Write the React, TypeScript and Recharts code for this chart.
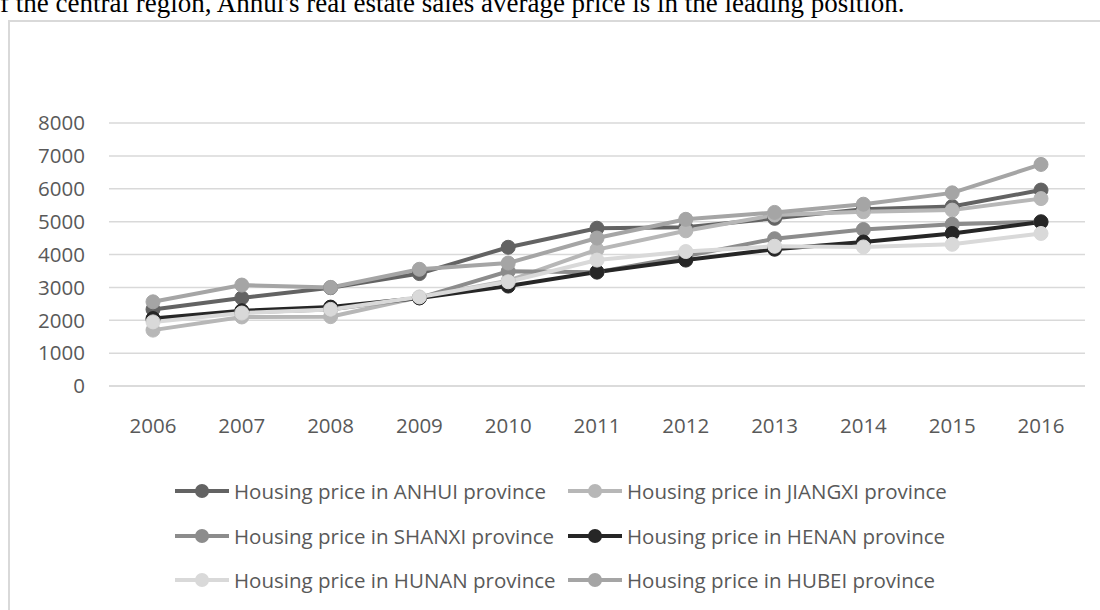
import React from 'react'
import { LineChart, Line, XAxis, YAxis, CartesianGrid, Legend } from 'recharts'

const years = ['2006', '2007', '2008', '2009', '2010', '2011', '2012', '2013', '2014', '2015', '2016']

const anhui = [2330, 2680, 2990, 3420, 4220, 4800, 4830, 5100, 5380, 5460, 5960]
const jiangxi = [1700, 2100, 2110, 2700, 3200, 4150, 4720, 5200, 5300, 5350, 5700]
const shanxi = [2020, 2240, 2330, 2680, 3490, 3460, 3950, 4480, 4760, 4920, 5000]
const henan = [2050, 2290, 2400, 2680, 3040, 3470, 3830, 4160, 4380, 4640, 4990]
const hunan = [1950, 2220, 2330, 2710, 3170, 3830, 4090, 4250, 4230, 4310, 4640]
const hubei = [2560, 3070, 3000, 3550, 3740, 4500, 5070, 5280, 5530, 5875, 6740]

const yTicks = [0, 1000, 2000, 3000, 4000, 5000, 6000, 7000, 8000]

const series = [
  { key: 'anhui', name: 'Housing price in ANHUI province', values: anhui, color: '#636363' },
  { key: 'jiangxi', name: 'Housing price in JIANGXI province', values: jiangxi, color: '#b7b7b7' },
  { key: 'shanxi', name: 'Housing price in SHANXI province', values: shanxi, color: '#8c8c8c' },
  { key: 'henan', name: 'Housing price in HENAN province', values: henan, color: '#262626' },
  { key: 'hunan', name: 'Housing price in HUNAN province', values: hunan, color: '#d9d9d9' },
  { key: 'hubei', name: 'Housing price in HUBEI province', values: hubei, color: '#a5a5a5' },
]

const rows = years.map((year, i) => {
  const row: Record<string, string | number> = { year }
  series.forEach((s) => {
    row[s.key] = s.values[i]
  })
  return row
})

const FONT = '"Open Sans", sans-serif'
const TEXT = '#595959'

// two columns, three rows, same order as the series
function LegendGrid() {
  const colX = [175, 568]
  const rowY = [65, 110, 154]
  return (
    <div style={{ position: 'relative', width: 1085, height: 184 }}>
      {series.map((s, i) => (
        <div
          key={s.key}
          style={{
            position: 'absolute',
            left: colX[i % 2],
            top: rowY[Math.floor(i / 2)] - 15,
            height: 30,
            display: 'flex',
            alignItems: 'center',
            whiteSpace: 'nowrap',
          }}
        >
          <svg width="54" height="16" style={{ marginRight: 5 }}>
            <line x1="0" y1="8" x2="54" y2="8" stroke={s.color} strokeWidth="4" />
            <circle cx="27" cy="8" r="7" fill={s.color} />
          </svg>
          <span style={{ fontFamily: FONT, fontSize: 20.5, color: TEXT }}>{s.name}</span>
        </div>
      ))}
    </div>
  )
}

export default function App() {
  return (
    <div
      style={{
        position: 'fixed',
        left: 0,
        top: 0,
        width: 1100,
        height: 610,
        overflow: 'hidden',
        background: '#fff',
      }}
    >
      <div
        style={{
          position: 'absolute',
          left: 0,
          top: -10,
          fontFamily: '"Liberation Serif", serif',
          fontSize: 27,
          lineHeight: '27px',
          whiteSpace: 'nowrap',
          color: '#000',
        }}
      >
        f the central region, Anhui's real estate sales average price is in the leading position.
      </div>
      <div
        style={{
          position: 'absolute',
          left: 8,
          top: 20,
          width: 1200,
          height: 700,
          borderLeft: '2px solid #d9d9d9',
          borderTop: '2px solid #d9d9d9',
        }}
      />
      <div style={{ position: 'absolute', left: 0, top: 0 }}>
        <LineChart
          width={1100}
          height={610}
          data={rows}
          margin={{ top: 123, right: 15, bottom: 0, left: 0 }}
        >
          <CartesianGrid vertical={false} stroke="#d9d9d9" strokeWidth={1.5} />
          <XAxis
            dataKey="year"
            height={40}
            padding={{ left: 44, right: 44 }}
            axisLine={{ stroke: '#d9d9d9', strokeWidth: 1.5 }}
            tickLine={false}
            tickMargin={26}
            interval={0}
            tick={{ fontFamily: FONT, fontSize: 20.5, fill: TEXT }}
          />
          <YAxis
            width={109}
            domain={[0, 8000]}
            ticks={yTicks}
            axisLine={false}
            tickLine={false}
            tickMargin={18}
            tick={{ fontFamily: FONT, fontSize: 20.5, fill: TEXT }}
          />
          <Legend verticalAlign="bottom" content={() => <LegendGrid />} />
          {series.map((s) => (
            <Line
              key={s.key}
              type="linear"
              dataKey={s.key}
              name={s.name}
              stroke={s.color}
              strokeWidth={4}
              dot={{ r: 7, fill: s.color, stroke: s.color, strokeWidth: 1 }}
              isAnimationActive={false}
            />
          ))}
        </LineChart>
      </div>
    </div>
  )
}
